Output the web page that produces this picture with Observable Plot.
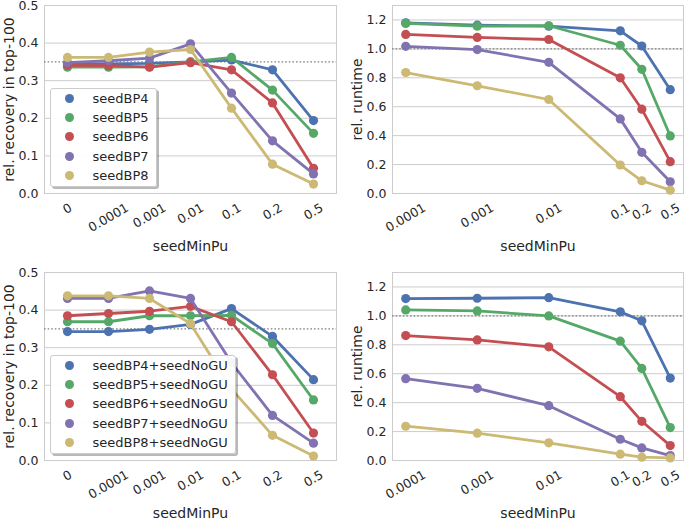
<!DOCTYPE html>
<html><head><meta charset="utf-8">
<script src="https://cdn.jsdelivr.net/npm/d3@7"></script>
<script src="https://cdn.jsdelivr.net/npm/@observablehq/plot@0.6"></script>
<style>
body{margin:0;background:#fff;font-family:"DejaVu Sans",sans-serif;}
#wrap{position:relative;width:685px;height:518px;overflow:hidden;background:#fff;}
.panel{position:absolute;}
.legend{position:absolute;background:rgba(255,255,255,0.93);border:1px solid #cccccc;border-radius:3px;box-shadow:2px 2px 0 rgba(0,0,0,0.28);font-size:13px;color:#262626;padding:0 7px 1px 0;box-sizing:border-box;}
.legend .row{display:flex;align-items:center;height:19.2px;white-space:nowrap;}
.legend .dot{width:9px;height:9px;border-radius:50%;margin-left:14px;margin-right:18.5px;flex:none;}
</style></head><body><div id="wrap"></div>
<script>
// ---------- data ----------
const namesBP = ["seedBP4","seedBP5","seedBP6","seedBP7","seedBP8"];
const namesNoGU = ["seedBP4+seedNoGU","seedBP5+seedNoGU","seedBP6+seedNoGU","seedBP7+seedNoGU","seedBP8+seedNoGU"];
const colors = ["#4C72B0","#55A868","#C44E52","#8172B2","#CCB974"];
const catX = ["0","0.0001","0.001","0.01","0.1","0.2","0.5"];
const logX = [0.0001,0.001,0.01,0.1,0.2,0.5];
const logXLabels = ["0.0001","0.001","0.01","0.1","0.2","0.5"];
const recoveryTicks = [0,0.1,0.2,0.3,0.4,0.5];
const runtimeTicks = [0,0.2,0.4,0.6,0.8,1.0,1.2];
const recoveryRef = 0.35;
const runtimeRef = 1.0;

// top-left: relative recovery (seedBP*)
const recBP4 = [0.345,0.345,0.346,0.350,0.355,0.329,0.194];
const recBP5 = [0.336,0.336,0.337,0.350,0.362,0.275,0.160];
const recBP6 = [0.341,0.340,0.336,0.348,0.329,0.241,0.067];
const recBP7 = [0.348,0.353,0.360,0.398,0.267,0.140,0.052];
const recBP8 = [0.362,0.362,0.376,0.383,0.227,0.078,0.025];

// top-right: relative runtime (seedBP*)
const rtBP4 = [1.180,1.164,1.157,1.125,1.020,0.718];
const rtBP5 = [1.176,1.157,1.160,1.025,0.859,0.398];
const rtBP6 = [1.100,1.079,1.065,0.800,0.583,0.220];
const rtBP7 = [1.018,0.995,0.907,0.516,0.285,0.081];
const rtBP8 = [0.836,0.745,0.650,0.197,0.088,0.023];

// bottom-left: relative recovery (seedBP* + seedNoGU)
const recNoGU4 = [0.343,0.343,0.349,0.362,0.404,0.330,0.215];
const recNoGU5 = [0.369,0.369,0.385,0.385,0.386,0.311,0.161];
const recNoGU6 = [0.385,0.391,0.397,0.410,0.369,0.228,0.073];
const recNoGU7 = [0.431,0.431,0.451,0.431,0.260,0.120,0.046];
const recNoGU8 = [0.438,0.438,0.431,0.364,0.190,0.067,0.012];

// bottom-right: relative runtime (seedBP* + seedNoGU)
const rtNoGU4 = [1.120,1.122,1.126,1.028,0.966,0.570];
const rtNoGU5 = [1.041,1.034,1.000,0.825,0.637,0.228];
const rtNoGU6 = [0.864,0.834,0.786,0.441,0.271,0.103];
const rtNoGU7 = [0.566,0.499,0.379,0.147,0.087,0.034];
const rtNoGU8 = [0.237,0.189,0.122,0.044,0.023,0.018];

// ---------- drawing ----------
const wrap = document.getElementById("wrap");
const TICK_FS = 12.5, ANG = 30 * Math.PI / 180;
const ctx = document.createElement("canvas").getContext("2d");
ctx.font = TICK_FS + "px 'DejaVu Sans'";
function halfExt(s){
  const w = ctx.measureText(s).width, h = TICK_FS * 1.17;
  return (w/2) * Math.sin(ANG) + (h/2) * Math.cos(ANG);
}

function panel(o){
  const marks = [
    Plot.gridY(o.yTicks, {stroke:"#cccccc", strokeOpacity:1, strokeWidth:1}),
    Plot.frame({stroke:"#cccccc", strokeWidth:1}),
    Plot.ruleY([o.ref], {stroke:"#7f7f7f", strokeWidth:1.2, strokeDasharray:"1.6,2"}),
    Plot.axisY(o.yTicks, {tickSize:0, tickPadding:6, fontSize:TICK_FS, tickFormat:d3.format(".1f"), label:null}),
  ];
  o.series.forEach((vals, i) => {
    const rows = o.xs.map((x, j) => ({x, y: vals[j]}));
    marks.push(Plot.line(rows, {x:"x", y:"y", stroke:colors[i], strokeWidth:2.8}));
    marks.push(Plot.dot(rows, {x:"x", y:"y", r:4.6, fill:colors[i], stroke:null}));
  });
  o.xs.forEach((x, j) => {
    const lab = o.xLabels[j];
    marks.push(Plot.text([lab], {x: () => x, frameAnchor:"bottom", dy: 7 + halfExt(lab),
      rotate:-30, textAnchor:"middle", lineAnchor:"middle", fontSize:TICK_FS, fill:"#262626"}));
  });
  marks.push(Plot.text(["seedMinPu"], {frameAnchor:"bottom", dy:53, lineAnchor:"middle", textAnchor:"middle", fontSize:14, fill:"#262626"}));
  marks.push(Plot.text([o.yLabel], {frameAnchor:"left", dx:-35, rotate:-90, lineAnchor:"middle", textAnchor:"middle", fontSize:14, fill:"#262626"}));

  const chart = Plot.plot({
    width:o.width, height:o.height,
    marginLeft:o.m[3], marginTop:o.m[0], marginRight:o.m[1], marginBottom:o.m[2],
    x: {...o.xScale, axis:null},
    y: {domain:[0, o.yMax], axis:null},
    style:{fontFamily:"'DejaVu Sans', sans-serif", fontSize:TICK_FS+"px", color:"#262626", background:"transparent", overflow:"visible"},
    marks
  });
  const div = document.createElement("div");
  div.className = "panel";
  div.style.left = o.left + "px"; div.style.top = o.top + "px";
  div.appendChild(chart);
  wrap.appendChild(div);

  if (o.legend) {
    const lg = document.createElement("div");
    lg.className = "legend";
    lg.style.left = o.legend[0] + "px"; lg.style.top = o.legend[1] + "px";
    o.legendNames.forEach((n, i) => {
      const r = document.createElement("div"); r.className = "row";
      const d = document.createElement("span"); d.className = "dot"; d.style.background = colors[i];
      const t = document.createElement("span"); t.textContent = n;
      r.appendChild(d); r.appendChild(t); lg.appendChild(r);
    });
    wrap.appendChild(lg);
  }
}

const logDomain = [Math.pow(10, -4 - 0.185), Math.pow(10, Math.log10(0.5) + 0.185)];
const catScale = {type:"point", domain:catX, padding:0.5};
const logScale = {type:"log", domain:logDomain};

panel({left:0, top:0, width:342, height:260, m:[5,6,67,44], xScale:catScale, xs:catX, xLabels:catX,
  series:[recBP4,recBP5,recBP6,recBP7,recBP8], yMax:0.5, yTicks:recoveryTicks, ref:recoveryRef,
  yLabel:"rel. recovery in top-100", legend:[50,88], legendNames:namesBP});
panel({left:342, top:0, width:343, height:260, m:[5,2,67,50], xScale:logScale, xs:logX, xLabels:logXLabels,
  series:[rtBP4,rtBP5,rtBP6,rtBP7,rtBP8], yMax:1.3, yTicks:runtimeTicks, ref:runtimeRef,
  yLabel:"rel. runtime"});
panel({left:0, top:260, width:342, height:258, m:[12,6,58,44], xScale:catScale, xs:catX, xLabels:catX,
  series:[recNoGU4,recNoGU5,recNoGU6,recNoGU7,recNoGU8], yMax:0.5, yTicks:recoveryTicks, ref:recoveryRef,
  yLabel:"rel. recovery in top-100", legend:[50,355], legendNames:namesNoGU});
panel({left:342, top:260, width:343, height:258, m:[12,2,58,50], xScale:logScale, xs:logX, xLabels:logXLabels,
  series:[rtNoGU4,rtNoGU5,rtNoGU6,rtNoGU7,rtNoGU8], yMax:1.3, yTicks:runtimeTicks, ref:runtimeRef,
  yLabel:"rel. runtime"});
</script></body></html>
